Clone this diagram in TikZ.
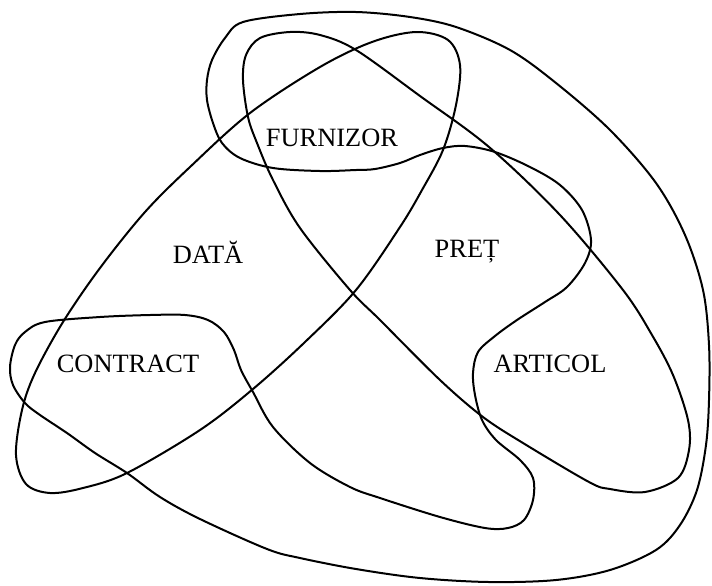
\documentclass[tikz,border=0pt]{standalone}
\usepackage{fontspec}
\setmainfont{Liberation Serif}
\usepackage{tikz}

\begin{document}
\begin{tikzpicture}[x=0.5pt, y=-0.5pt,
    relcurve/.style={line width=1pt, line join=round},
    attr/.style={font=\fontsize{13.2}{16}\selectfont, inner sep=0pt}]

    \useasboundingbox (0,0) rectangle (712,585);

    % DATA loop
    \draw[relcurve] plot[smooth cycle, tension=0.55] coordinates {
        (16,455) (22,410) (35,373) (63,322) (100,268) (145,212) (190,167)
        (250,113) (320,67) (372,42) (416,32) (448,40) (460,65) (456,105)
        (443,150) (422,190) (400,227) (356,290) (305,342) (253,389)
        (200,430) (127,473) (83,488) (50,493) (26,484)};

    % PRET loop
    \draw[relcurve] plot[smooth cycle, tension=0.55] coordinates {
        (290,32) (320,35) (356,50) (420,96) (489,147) (560,215) (623,290)
        (652,335) (673,375) (688,420) (689,450) (678,478) (645,492)
        (610,489) (589,482) (523,443) (483,417) (440,380) (380,320)
        (350,290) (300,228) (273,180) (257,143) (248,117) (243,80)
        (246,55) (260,38)};

    % CONTRACT - FURNIZOR - ARTICOL curve
    \draw[relcurve] plot[smooth cycle, tension=0.55] coordinates {
        (243,22) (300,14) (356,12) (410,17) (456,27) (510,50) (556,83)
        (610,130) (656,183) (685,235) (703,290) (709,345) (709,400)
        (706,445) (697,490) (680,525) (656,550) (610,570) (556,580)
        (489,582) (420,578) (356,569) (300,558) (267,549) (200,519)
        (160,497) (127,473) (95,453) (67,433) (40,415) (25,403) (13,385)
        (10,367) (15,345) (25,332) (45,322) (100,317) (150,315) (185,315)
        (208,320) (224,332) (234,350) (241,370) (253,392) (273,427)
        (310,463) (350,487) (380,498) (440,517) (485,528) (508,528)
        (524,520) (533,500) (533,478) (520,460) (496,440) (482,420)
        (475,395) (473,373) (478,352) (495,336) (517,320) (545,302)
        (567,287) (585,263) (591,240) (582,210) (560,185) (530,167)
        (495,152) (465,146) (443,148) (420,155) (400,163) (375,169)
        (356,170) (320,171) (273,168) (240,158) (222,143) (213,123)
        (207,100) (207,80) (212,60) (225,38)};

    % labels
    \node[attr] (furnizor) at (332,138) {FURNIZOR};
    \node[attr] (data) at (208,252) {DATĂ};
    \node[attr] (pret) at (467,252) {PREȚ};
    \node[attr] (contract) at (128,364) {CONTRACT};
    \node[attr] (articol) at (550,364) {ARTICOL};

\end{tikzpicture}
\end{document}
